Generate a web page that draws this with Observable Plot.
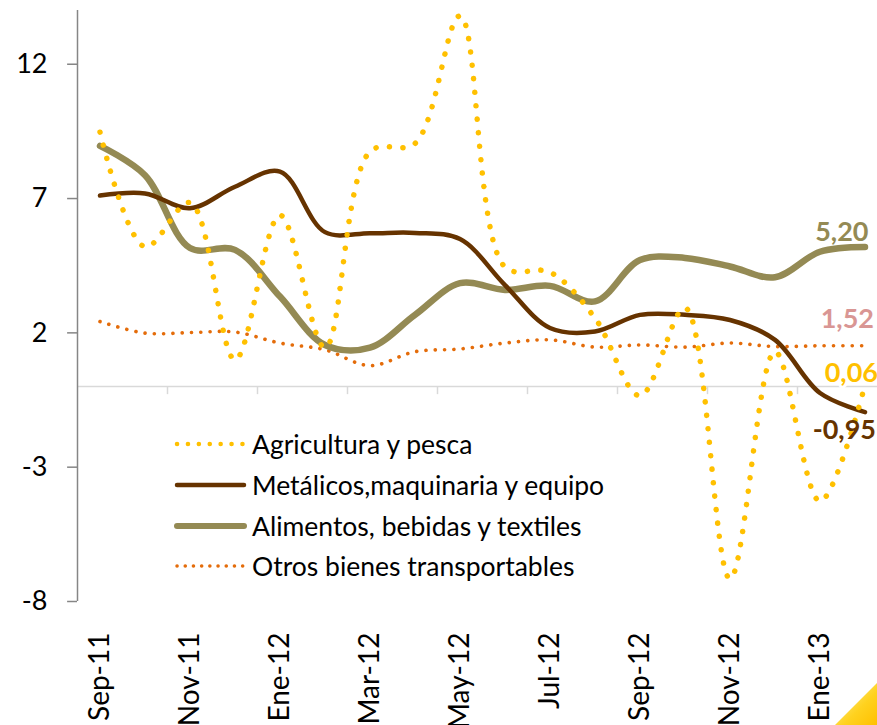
<!DOCTYPE html>
<html>
<head>
<meta charset="utf-8">
<script src="https://cdn.jsdelivr.net/npm/d3@7"></script>
<script src="https://cdn.jsdelivr.net/npm/@observablehq/plot@0.6"></script>
<style>
  html, body { margin: 0; padding: 0; background: #fff; overflow: hidden; }
  #wrap { position: relative; width: 877px; height: 725px; overflow: hidden; font-family: Lato, "Open Sans", sans-serif; }
  #legend { position: absolute; left: 174px; top: 424px; font-size: 26.5px; color: #000; }
  #legend .row { display: flex; align-items: center; height: 40.7px; }
  #legend svg { margin-right: 5px; }
  #corner { position: absolute; right: 0; bottom: 0; width: 42px; height: 42px;
    background: linear-gradient(135deg, #fff3a0, #ffd21f 60%, #ffc000);
    clip-path: polygon(100% 0, 100% 100%, 0 100%); }
</style>
</head>
<body>
<div id="wrap"></div>
<script>
const months = ["Sep-11","Oct-11","Nov-11","Dic-11","Ene-12","Feb-12","Mar-12","Abr-12","May-12","Jun-12","Jul-12","Ago-12","Sep-12","Oct-12","Nov-12","Dic-12","Ene-13","Feb-13"];
const tickLabels = ["Sep-11","Nov-11","Ene-12","Mar-12","May-12","Jul-12","Sep-12","Nov-12","Ene-13"];
const seriesNames = ["Agricultura y pesca","Metálicos,maquinaria y equipo","Alimentos, bebidas y textiles","Otros bienes transportables"];
const agricultura = [9.47, 5.2, 6.85, 1.0, 6.38, 1.45, 8.75, 9.05, 13.8, 4.45, 4.26, 2.55, -0.34, 2.93, -7.15, 1.3, -4.27, 0.06];
const metalicos   = [7.11, 7.19, 6.64, 7.44, 8.0, 5.75, 5.71, 5.72, 5.49, 3.78, 2.18, 2.05, 2.67, 2.67, 2.48, 1.74, -0.24, -0.95];
const alimentos   = [8.96, 7.87, 5.16, 5.09, 3.35, 1.55, 1.45, 2.67, 3.85, 3.6, 3.75, 3.17, 4.71, 4.79, 4.47, 4.07, 5.02, 5.20];
const otros       = [2.42, 1.99, 2.01, 2.03, 1.62, 1.37, 0.78, 1.3, 1.4, 1.62, 1.74, 1.47, 1.55, 1.47, 1.62, 1.49, 1.52, 1.52];
const endLabels = ["0,06", "-0,95", "5,20", "1,52"];
const yTicks = [-8, -3, 2, 7, 12];

const allSeries = [agricultura, metalicos, alimentos, otros];
const styles = [
  {stroke: "#FFC000", strokeWidth: 5.5, strokeDasharray: "0.1 13.4", strokeLinecap: "round"},
  {stroke: "#663300", strokeWidth: 4.5, strokeLinecap: "round"},
  {stroke: "#948A54", strokeWidth: 6.5, strokeLinecap: "round"},
  {stroke: "#E46C0A", strokeWidth: 3.6, strokeDasharray: "0.1 9.2", strokeLinecap: "round"}
];
const labelStyle = [
  {fill: "#FFC000", dx: 13, dy: -12},
  {fill: "#663300", dx: 11, dy: 18},
  {fill: "#948A54", dx: 3.5, dy: -15},
  {fill: "#D99694", dx: 9, dy: -26}
];

const rows = (vals) => vals.map((v, i) => ({i, v, m: months[i]}));
const tickIdx = tickLabels.map(t => months.indexOf(t));
const boundaries = d3.range(1.5, 17, 2);

const marks = [
  Plot.ruleY([0], {x1: -0.5, x2: 17.5, stroke: "#d9d9d9", strokeWidth: 1.5}),
  Plot.ruleX(boundaries, {y1: 0, y2: -0.3, stroke: "#d9d9d9", strokeWidth: 1.5}),
  Plot.ruleX([-0.5], {y1: -8, y2: 14, stroke: "#868686", strokeWidth: 1.5}),
  Plot.ruleY(yTicks, {x1: -0.5, x2: -0.72, stroke: "#868686", strokeWidth: 1.5}),
  Plot.text(yTicks, {x: -0.5, y: d => d, text: d => String(d), textAnchor: "end", dx: -30, fontSize: 27, fill: "#000"}),
  Plot.text(tickIdx, {x: d => d, y: -8, text: d => months[d], rotate: -90, textAnchor: "end", dy: 31, fontSize: 28, fill: "#000"})
];
[3, 2, 1, 0].forEach(k => {
  marks.push(Plot.line(rows(allSeries[k]), {x: "i", y: "v", curve: "catmull-rom", ...styles[k]}));
});
[0, 1, 2, 3].forEach(k => {
  const last = allSeries[k].length - 1;
  marks.push(Plot.text([{i: last, v: allSeries[k][last]}], {
    x: "i", y: "v", text: () => endLabels[k], textAnchor: "end",
    fontSize: 27, fontWeight: "bold", fill: labelStyle[k].fill,
    dx: labelStyle[k].dx, dy: labelStyle[k].dy,
    stroke: k === 0 ? "#fff" : undefined, strokeWidth: k === 0 ? 6 : undefined
  }));
});

const chart = Plot.plot({
  width: 877, height: 725,
  margin: 0,
  style: {background: "transparent", fontFamily: "Lato, 'Open Sans', sans-serif", overflow: "hidden"},
  x: {type: "linear", domain: [-0.5, 17.5], range: [77, 887], axis: null},
  y: {type: "linear", domain: [-8, 14], range: [601, 10], axis: null},
  marks
});

const wrap = document.getElementById("wrap");
wrap.appendChild(chart);

const legend = document.createElement("div");
legend.id = "legend";
[0, 1, 2, 3].forEach(k => {
  const row = document.createElement("div");
  row.className = "row";
  const s = styles[k];
  const dash = k === 0 ? "0.1 10.8" : k === 3 ? "0.1 8.1" : "";
  const sw = k === 0 ? 4.5 : k === 3 ? 3.5 : k === 1 ? 4.5 : 6;
  row.innerHTML = `<svg width="73" height="12"><line x1="3" x2="70" y1="6" y2="6" stroke="${s.stroke}" stroke-width="${sw}" stroke-linecap="round" ${dash ? `stroke-dasharray="${dash}"` : ""}/></svg><span>${seriesNames[k]}</span>`;
  legend.appendChild(row);
});
wrap.appendChild(legend);

const corner = document.createElement("div");
corner.id = "corner";
wrap.appendChild(corner);
</script>
</body>
</html>
